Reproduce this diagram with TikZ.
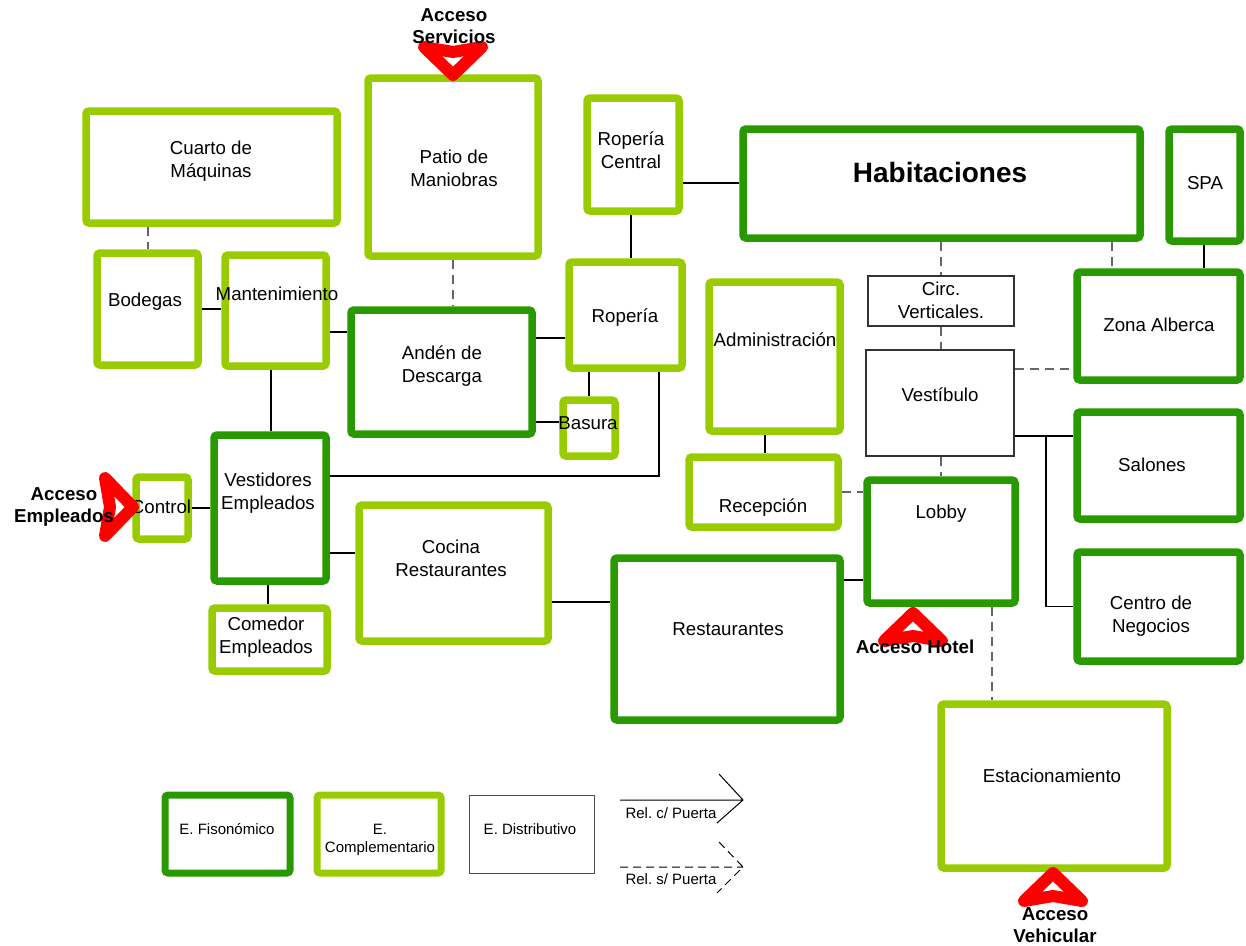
\documentclass[tikz,border=0pt]{standalone}
\usepackage{fontspec}
\setmainfont{Liberation Sans}
\frenchspacing

\definecolor{verdeosc}{RGB}{40,153,0}
\definecolor{verdecla}{RGB}{153,204,0}

\tikzset{
  fison/.style={draw=verdeosc, line width=7.5pt, rounded corners=3pt},
  compl/.style={draw=verdecla, line width=7.5pt, rounded corners=3pt},
  distr/.style={draw=black!80, line width=1.2pt},
  % con text depth=0 el texto queda centrado en su ultima linea
  txt/.style={font=\fontsize{18.7}{23}\selectfont, align=center, inner sep=0pt,
    text height=13.4pt, text depth=0pt},
  txtley/.style={font=\fontsize{15}{17.5}\selectfont, align=center, inner sep=0pt,
    text height=10.7pt, text depth=0pt},
  acc/.style={txt, font=\bfseries\fontsize{18.7}{22}\selectfont},
  rel/.style={draw=black, line width=1.2pt},
  relsp/.style={draw=black!60, line width=1.3pt, dash pattern=on 9pt off 6pt},
  flecha/.style={draw=red, line width=12pt, line join=round},
}

% chevron de acceso: punta en #1, girado #2 grados
\newcommand{\acceso}[2]{%
  \draw[flecha, shift={#1}, rotate=#2] (0,0) -- (-28,29) -- (-23,0) -- (-28,-29) -- cycle;}

\begin{document}
\begin{tikzpicture}[x=1pt, y=-1pt]
  \useasboundingbox (0,0) rectangle (1246,945);

  % zonas
  \node[compl, minimum width=251, minimum height=112] (cuarto) at (211.5,167) {};
  \node[compl, minimum width=170, minimum height=178] (patio) at (453,167) {};
  \node[compl, minimum width=92, minimum height=113] (rcentral) at (633,154.5) {};
  \node[fison, minimum width=397, minimum height=109] (habit) at (941.5,183.5) {};
  \node[fison, minimum width=71, minimum height=112] (spa) at (1204.5,185) {};
  \node[compl, minimum width=101, minimum height=112] (bodegas) at (147.5,309) {};
  \node[compl, minimum width=101, minimum height=111] (mant) at (275.5,310.5) {};
  \node[compl, minimum width=113, minimum height=106] (roperia) at (625.5,315) {};
  \node[fison, minimum width=181, minimum height=124] (anden) at (441.5,372) {};
  \node[compl, minimum width=52, minimum height=56] (basura) at (589,428) {};
  \node[compl, minimum width=131, minimum height=149] (admin) at (774.5,356.5) {};
  \node[distr, minimum width=146, minimum height=50] (circ) at (941,301) {};
  \node[fison, minimum width=163, minimum height=108] (alberca) at (1158.5,326) {};
  \node[distr, minimum width=148, minimum height=106] (vestibulo) at (940,403) {};
  \node[fison, minimum width=163, minimum height=107] (salones) at (1158.5,465.5) {};
  \node[fison, minimum width=112, minimum height=146] (vestid) at (270,508) {};
  \node[compl, minimum width=52, minimum height=62] (control) at (162,508) {};
  \node[compl, minimum width=149, minimum height=70] (recep) at (763.5,492) {};
  \node[fison, minimum width=148, minimum height=123] (lobby) at (941,541.5) {};
  \node[compl, minimum width=189, minimum height=136] (cocina) at (453.5,573) {};
  \node[compl, minimum width=115, minimum height=63] (comedor) at (269.5,639.5) {};
  \node[fison, minimum width=226, minimum height=162] (restaur) at (727,639) {};
  \node[fison, minimum width=163, minimum height=109] (negocios) at (1158.5,606.5) {};
  \node[compl, minimum width=226, minimum height=164] (estac) at (1054,786) {};

  \node[txt] (cuarto-t) at (211,171) {Cuarto de\\Máquinas};
  \node[txt] (patio-t) at (454,180) {Patio de\\Maniobras};
  \node[txt] (rcentral-t) at (631,162) {Ropería\\Central};
  \node[txt, font=\bfseries\fontsize{28}{34}\selectfont, text height=20pt] (habit-t) at (940,172) {Habitaciones};
  \node[txt] (spa-t) at (1205,183) {SPA};
  \node[txt] (bodegas-t) at (145,300) {Bodegas};
  \node[txt] (mant-t) at (277,294) {Mantenimiento};
  \node[txt] (roperia-t) at (625,316) {Ropería};
  \node[txt] (anden-t) at (442,376) {Andén de\\Descarga};
  \node[txt] (basura-t) at (588,423) {Basura};
  \node[txt] (admin-t) at (775,340) {Administración};
  \node[txt] (circ-t) at (941,312) {Circ.\\Verticales.};
  \node[txt] (alberca-t) at (1159,325) {Zona Alberca};
  \node[txt] (vestibulo-t) at (940,395) {Vestíbulo};
  \node[txt] (salones-t) at (1152,465) {Salones};
  \node[txt] (vestid-t) at (268,503) {Vestidores\\Empleados};
  \node[txt] (control-t) at (161,507) {Control};
  \node[txt] (recep-t) at (763,506) {Recepción};
  \node[txt] (lobby-t) at (941,512) {Lobby};
  \node[txt] (cocina-t) at (451,570) {Cocina\\Restaurantes};
  \node[txt] (comedor-t) at (266,647) {Comedor\\Empleados};
  \node[txt] (restaur-t) at (728,629) {Restaurantes};
  \node[txt] (negocios-t) at (1151,626) {Centro de\\Negocios};
  \node[txt] (estac-t) at (1052,776) {Estacionamiento};

  % relaciones con puerta
  \draw[rel] (rcentral.south -| 631,0) -- (roperia.north -| 631,0);
  \draw[rel] (rcentral.east |- 0,183) -- (habit.west |- 0,183);
  \draw[rel] (bodegas.east |- 0,309) -- (mant.west |- 0,309);
  \draw[rel] (mant.east |- 0,332) -- (anden.west |- 0,332);
  \draw[rel] (anden.east |- 0,338) -- (roperia.west |- 0,338);
  \draw[rel] (roperia.south -| basura.north) -- (basura.north);
  \draw[rel] (anden.east |- 0,422) -- (basura.west |- 0,422);
  \draw[rel] (mant.south -| 271,0) -- (vestid.north -| 271,0);
  \draw[rel] (vestid.east |- 0,476) -| (roperia.south -| 659,0);
  \draw[rel] (control) -- (vestid);
  \draw[rel] (vestid.east |- 0,553) -- (cocina.west |- 0,553);
  \draw[rel] (vestid.south -| 268,0) -- (comedor.north -| 268,0);
  \draw[rel] (cocina.east |- 0,602) -- (restaur.west |- 0,602);
  \draw[rel] (restaur.east |- 0,580) -- (lobby.west |- 0,580);
  \draw[rel] (admin.south -| 765,0) -- (recep.north -| 765,0);
  \draw[rel] (spa.south -| 1204,0) -- (alberca.north -| 1204,0);
  \draw[rel] (vestibulo.east |- 0,436) -- (salones.west |- 0,436);
  \coordinate (ramal) at (1046,436);
  \draw[rel] (ramal) |- (negocios.west);

  % relaciones sin puerta
  \draw[relsp] (cuarto.south -| 148,0) -- (bodegas.north -| 148,0);
  \draw[relsp] (patio.south) -- (anden.north -| patio.south);
  \draw[relsp] (habit.south -| circ.north) -- (circ.north);
  \draw[relsp] (habit.south -| 1112,0) -- (alberca.north -| 1112,0);
  \draw[relsp] (circ.south) -- (vestibulo.north -| circ.south);
  \draw[relsp] (vestibulo.east |- 0,369) -- (alberca.west |- 0,369);
  \draw[relsp] (vestibulo.south -| lobby.north) -- (lobby.north);
  \draw[relsp] (recep.east |- 0,492) -- (lobby.west |- 0,492);
  \draw[relsp] (lobby.south -| 992,0) -- (estac.north -| 992,0);

  % accesos
  \acceso{(453,75)}{-90}
  \acceso{(133,507)}{0}
  \acceso{(913,613)}{90}
  \acceso{(1053,873)}{90}
  \node[acc] (acc-serv) at (454,37) {Acceso\\Servicios};
  \node[acc] (acc-empl) at (64,516) {Acceso\\Empleados};
  \node[acc] (acc-hotel) at (915,647) {Acceso Hotel};
  \node[acc] (acc-vehic) at (1055,936) {Acceso\\Vehicular};

  % simbologia
  \node[fison, line width=7pt, minimum width=125, minimum height=78] (l-fis) at (227.5,834) {};
  \node[compl, line width=7pt, minimum width=124, minimum height=78] (l-com) at (379,834) {};
  \node[distr, draw=black!70, line width=1pt, minimum width=125, minimum height=78] (l-dis) at (531.5,834) {};
  \node[txtley] (l-fis-t) at (227,829) {E. Fisonómico};
  \node[txtley] (l-com-t) at (380,847) {E.\\Complementario};
  \node[txtley] (l-dis-t) at (530,829) {E. Distributivo};

  \coordinate (rc-ini) at (620,800);
  \coordinate (rc-fin) at (743,800);
  \draw[black, line width=1pt] (rc-ini) -- (rc-fin) ++(-24,-26) -- (rc-fin) -- ++(-26,23);
  \coordinate (rs-ini) at (620,867);
  \coordinate (rs-fin) at (743,867);
  \draw[black, line width=1pt, dash pattern=on 8pt off 5pt] (rs-ini) -- (rs-fin) ++(-24,-25) -- (rs-fin) -- ++(-26,26);
  \node[txtley] (rc-t) at (671,813) {Rel. c/ Puerta};
  \node[txtley] (rs-t) at (671,879) {Rel. s/ Puerta};
\end{tikzpicture}
\end{document}
